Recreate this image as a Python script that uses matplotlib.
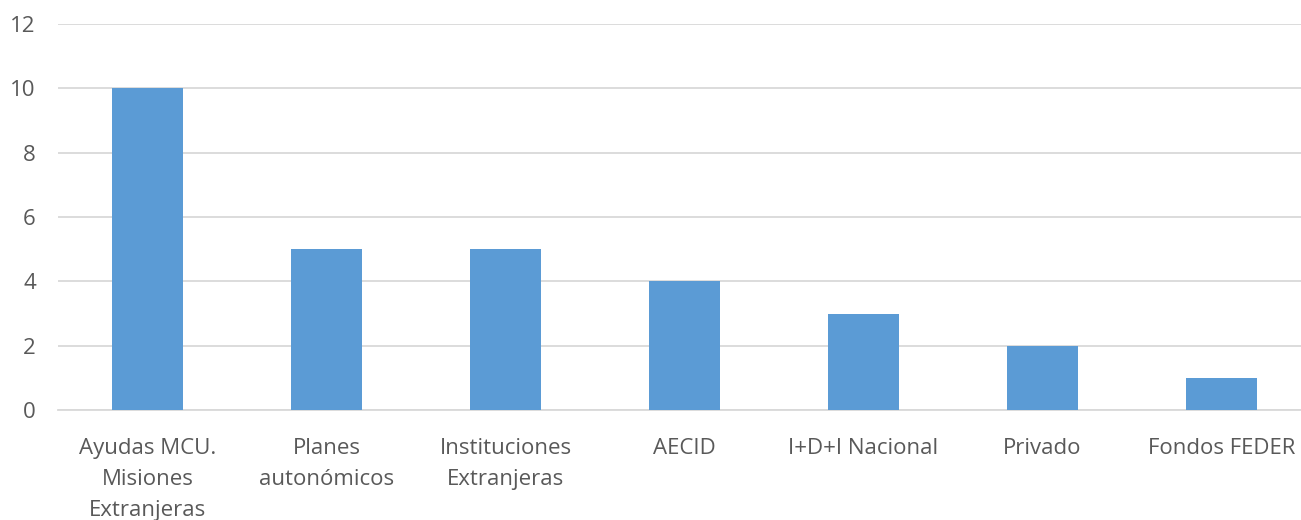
import numpy as np
import matplotlib
matplotlib.use('Agg')
import matplotlib.pyplot as plt

plt.rcParams['font.family'] = ['Open Sans', 'DejaVu Sans']

categories = ['Ayudas MCU.\nMisiones\nExtranjeras', 'Planes\nautonómicos',
              'Instituciones\nExtranjeras', 'AECID', 'I+D+I Nacional',
              'Privado', 'Fondos FEDER']
values = [10, 5, 5, 4, 3, 2, 1]
yticks = [0, 2, 4, 6, 8, 10, 12]

fig = plt.figure(figsize=(13.01, 5.2), dpi=100)
ax = fig.add_axes([58 / 1301, 110 / 520, 1253 / 1301, 386 / 520])

x = np.arange(len(categories))
ax.bar(x, values, width=0.4, color='#5B9BD5', zorder=3)

ax.set_xlim(-0.5, len(categories) - 0.5)
ax.set_ylim(0, 12)
ax.set_yticks(yticks)
ax.set_xticks(x)
ax.set_xticklabels(categories, linespacing=1.62)

ax.grid(axis='y', color='#D9D9D9', linewidth=1.3, zorder=0)
for s in ['top', 'right', 'left']:
    ax.spines[s].set_visible(False)
ax.spines['bottom'].set_color('#D9D9D9')
ax.spines['bottom'].set_linewidth(1.3)

ax.tick_params(axis='both', length=0, labelsize=16, colors='#595959')
ax.tick_params(axis='x', pad=20)
ax.tick_params(axis='y', pad=16)

fig.savefig('out.png', dpi=100)
